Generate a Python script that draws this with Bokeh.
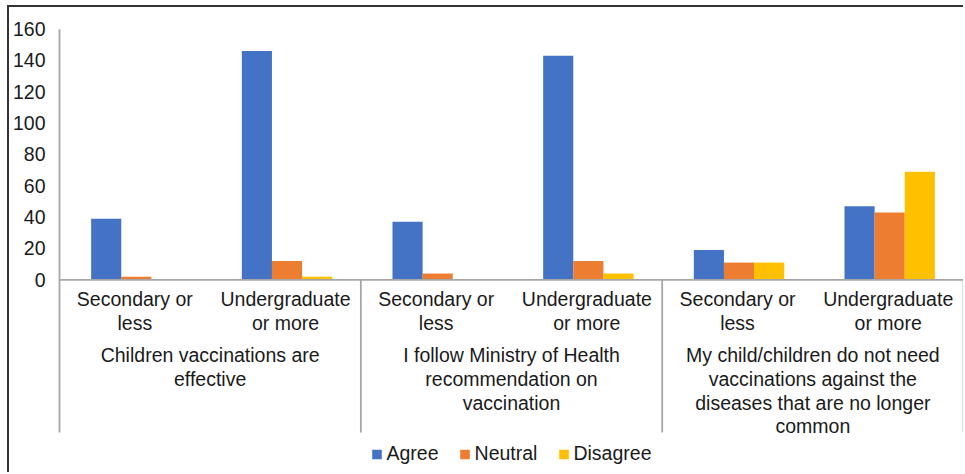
import numpy as np
from bokeh.plotting import figure
from bokeh.models import Range1d, FixedTicker
from bokeh.core.properties import value
from bokeh.embed import file_html
from bokeh.resources import INLINE

# ---------------- data ----------------
groups = [
    "Children vaccinations are\neffective",
    "I follow Ministry of Health\nrecommendation on\nvaccination",
    "My child/children do not need\nvaccinations against the\ndiseases that are no longer\ncommon",
]
levels = ["Secondary or\nless", "Undergraduate\nor more"]
series = ["Agree", "Neutral", "Disagree"]
agree = [39, 146, 37, 143, 19, 47]
neutral = [2, 12, 4, 12, 11, 43]
disagree = [0, 2, 0, 4, 11, 69]
y_ticks = [0, 20, 40, 60, 80, 100, 120, 140, 160]
colors = ["#4472C4", "#ED7D31", "#FFC000"]

# ---------------- layout (page pixels) ----------------
OX, OY = 9, 7                 # canvas origin on the page (after CSS border)
W, H = 965 - OX, 474 - OY
FRAME_L = 57                  # page x of frame left
AXIS_X = 59                   # page x of the category axis start
ZERO_PX = 279.3               # page y of value 0
PX_PER_UNIT = 1.5667          # px per value unit
CAT_PX = 150.67               # px per sub-category
SEP_BOTTOM_PX = 432           # page y where the separators end
SUB_TOP_PX = 287.5            # top of first-level labels
GRP_TOP_PX = 343.5            # top of group labels

def ydata(py):
    return (ZERO_PX - py) / PX_PER_UNIT

FONT = value("Liberation Sans")
TXT = "#1a1a1a"
GREY = "#a6a6a6"
LINE_H = 1.08

n_lv = len(levels)
n_cat = len(groups) * n_lv
x_start = -(AXIS_X - FRAME_L) / CAT_PX
x_end = x_start + (965 - FRAME_L) / CAT_PX

p = figure(width=W, height=H, output_backend="svg", toolbar_location=None,
           x_range=Range1d(x_start, x_end), y_range=Range1d(ydata(474), ydata(OY)),
           min_border_left=FRAME_L - OX, min_border_right=0,
           min_border_top=0, min_border_bottom=0, x_axis_location=None)
p.styles = {"margin-left": "7px", "margin-top": "5px",
            "border-left": "2px solid #333333", "border-top": "2px solid #333333"}
p.outline_line_color = None
p.xgrid.visible = False
p.ygrid.visible = False
p.background_fill_color = "white"
p.border_fill_color = "white"

# category centres
xs = [gi * n_lv + li + 0.5 for gi in range(len(groups)) for li in range(n_lv)]

# bars
for k, (name, vals, col) in enumerate(zip(series, [agree, neutral, disagree], colors)):
    off = (k - 1) * 0.2 + 0.01
    p.vbar(x=[x + off for x in xs], top=vals, width=0.2, bottom=0,
           fill_color=col, line_color=None, legend_label=name)

# axis lines / separators
bottom_val = ydata(SEP_BOTTOM_PX)
bounds = [gi * n_lv for gi in range(len(groups) + 1)]
p.segment(x0=[0], y0=[y_ticks[-1]], x1=[0], y1=[bottom_val], line_color=GREY, line_width=1.8)
p.segment(x0=bounds[1:], y0=[0] * (len(bounds) - 1), x1=bounds[1:],
          y1=[bottom_val] * (len(bounds) - 1), line_color=GREY, line_width=1.8)
p.segment(x0=[0], y0=[0], x1=[n_cat], y1=[0], line_color=GREY, line_width=1.8)

# category labels
p.text(x=xs, y=[ydata(SUB_TOP_PX)] * len(xs), text=levels * len(groups),
       text_align="center", text_baseline="top", text_font=FONT,
       text_font_size="19.5px", text_color=TXT, text_line_height=LINE_H)
gx = [gi * n_lv + n_lv / 2 for gi in range(len(groups))]
p.text(x=gx, y=[ydata(GRP_TOP_PX)] * len(gx), text=groups,
       text_align="center", text_baseline="top", text_font=FONT,
       text_font_size="19.5px", text_color=TXT, text_line_height=LINE_H)

# y axis
p.yaxis.ticker = FixedTicker(ticks=y_ticks)
p.yaxis.axis_line_color = None
p.yaxis.major_tick_line_color = None
p.yaxis.minor_tick_line_color = None
p.yaxis.major_label_standoff = 6
p.yaxis.major_label_text_font = "Liberation Sans"
p.yaxis.major_label_text_font_size = "19.5px"
p.yaxis.major_label_text_color = TXT

# legend
lg = p.legend[0]
lg.location = "bottom_center"
lg.orientation = "horizontal"
lg.glyph_width = 12
lg.glyph_height = 12
lg.label_standoff = 4
lg.spacing = 20
lg.padding = 0
lg.margin = 9
lg.border_line_color = None
lg.background_fill_alpha = 0
lg.label_text_font = "Liberation Sans"
lg.label_text_font_size = "19.5px"
lg.label_text_color = TXT

open("out.html", "w").write(file_html(p, INLINE))
